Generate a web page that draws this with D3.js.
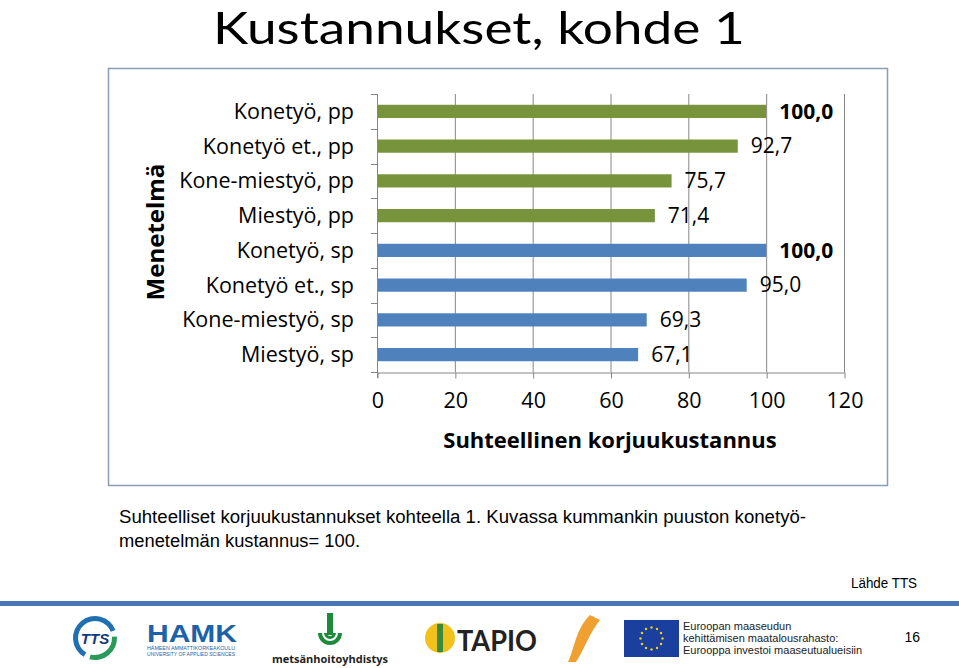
<!DOCTYPE html>
<html>
<head>
<meta charset="utf-8">
<script src="https://cdn.jsdelivr.net/npm/d3@7"></script>
<style>
  body { margin:0; background:#fff; }
  svg { display:block; }
</style>
</head>
<body>
<svg width="959" height="668"></svg>
<script>
const categories = ["Konetyö, pp","Konetyö et., pp","Kone-miestyö, pp","Miestyö, pp",
                    "Konetyö, sp","Konetyö et., sp","Kone-miestyö, sp","Miestyö, sp"];
const values = [100.0, 92.7, 75.7, 71.4, 100.0, 95.0, 69.3, 67.1];
const groups = ["pp","pp","pp","pp","sp","sp","sp","sp"];
const xTicks = [0,20,40,60,80,100,120];

const svg = d3.select("svg");
const font = "'Open Sans', sans-serif";

// slide title
svg.append("text").attr("x",213).attr("y",44)
  .attr("font-family","Lato, sans-serif").attr("font-size",44)
  .attr("textLength",532).attr("lengthAdjust","spacingAndGlyphs")
  .text("Kustannukset, kohde 1");

// chart frame
svg.append("rect").attr("x",108.5).attr("y",68.5).attr("width",779).attr("height",417)
  .attr("fill","#fff").attr("stroke","#8a9db2").attr("stroke-width",1.5);

const m = {left:377, right:844, top:94, bottom:372};
const x = d3.scaleLinear().domain([0,120]).range([m.left,m.right]);
const y = d3.scaleBand().domain(categories).range([m.top,m.bottom]).paddingInner(0.62).paddingOuter(0.31);
const yb = d3.scaleBand().domain(categories).range([m.top,m.bottom]);
const color = d3.scaleOrdinal().domain(["pp","sp"]).range(["#77933c","#4f81bd"]);

const g = svg.append("g");

// gridlines
g.selectAll("line.grid").data(xTicks.slice(1)).join("line")
  .attr("x1",d=>x(d)+0.5).attr("x2",d=>x(d)+0.5)
  .attr("y1",m.top).attr("y2",m.bottom)
  .attr("stroke","#868686").attr("stroke-width",1);

// bars
g.selectAll("rect.bar").data(categories).join("rect")
  .attr("x",x(0)).attr("y",d=>y(d))
  .attr("width",(d,i)=>x(values[i])-x(0)).attr("height",y.bandwidth())
  .attr("fill",(d,i)=>color(groups[i]));

// x axis
const xAxis = g.append("g").attr("transform",`translate(0.5,${m.bottom+0.5})`)
  .call(d3.axisBottom(x).tickValues(xTicks).tickSize(6).tickSizeOuter(0).tickPadding(14));
xAxis.select(".domain").attr("stroke","#868686");
xAxis.selectAll(".tick line").attr("stroke","#868686");
xAxis.selectAll("text").attr("font-family",font).attr("font-size",21.5).attr("fill","#000");

// y axis (category ticks between bands)
g.append("line").attr("x1",m.left+0.5).attr("x2",m.left+0.5).attr("y1",m.top).attr("y2",m.bottom+6)
  .attr("stroke","#868686");
g.selectAll("line.ytick").data(categories.concat([null])).join("line")
  .attr("x1",m.left-6).attr("x2",m.left)
  .attr("y1",(d,i)=>Math.round(m.top+i*yb.step())+0.5).attr("y2",(d,i)=>Math.round(m.top+i*yb.step())+0.5)
  .attr("stroke","#868686");
g.selectAll("text.ylab").data(categories).join("text")
  .attr("x",354).attr("y",d=>yb(d)+yb.bandwidth()/2).attr("dy","0.35em")
  .attr("text-anchor","end").attr("font-family",font).attr("font-size",21.5).attr("fill","#000")
  .text(d=>d);

// value labels
g.selectAll("text.val").data(categories).join("text")
  .attr("x",(d,i)=>x(values[i])+13).attr("y",d=>yb(d)+yb.bandwidth()/2).attr("dy","0.35em")
  .attr("font-family",font).attr("font-size",21)
  .attr("font-weight",(d,i)=>values[i]===100?"bold":"normal").attr("fill","#000")
  .text((d,i)=>d3.format(".1f")(values[i]).replace(".",","));

// axis titles
svg.append("text").attr("x",610).attr("y",448).attr("text-anchor","middle")
  .attr("font-family",font).attr("font-size",22).attr("font-weight","bold")
  .text("Suhteellinen korjuukustannus");
svg.append("text").attr("transform","translate(164,232) rotate(-90)").attr("text-anchor","middle")
  .attr("font-family",font).attr("font-size",24).attr("font-weight","bold")
  .text("Menetelmä");

// caption
const cap = "'Liberation Sans', sans-serif";
svg.append("text").attr("x",119).attr("y",523).attr("font-family",cap).attr("font-size",18)
  .attr("textLength",687).attr("lengthAdjust","spacingAndGlyphs")
  .text("Suhteelliset korjuukustannukset kohteella 1. Kuvassa kummankin puuston konetyö-");
svg.append("text").attr("x",119).attr("y",547).attr("font-family",cap).attr("font-size",18)
  .attr("textLength",241).attr("lengthAdjust","spacingAndGlyphs")
  .text("menetelmän kustannus= 100.");
svg.append("text").attr("x",917).attr("y",588).attr("text-anchor","end")
  .attr("font-family",cap).attr("font-size",14).attr("textLength",66).attr("lengthAdjust","spacingAndGlyphs")
  .text("Lähde TTS");

// footer rule
svg.append("rect").attr("x",0).attr("y",601).attr("width",959).attr("height",5).attr("fill","#4a76b8");

// footer logos (simplified)
const f = svg.append("g");
f.append("path").attr("d",d3.arc()({innerRadius:17,outerRadius:22,startAngle:-2.6,endAngle:1.2}))
  .attr("transform","translate(95,638)").attr("fill","#1f6fb2");
f.append("path").attr("d",d3.arc()({innerRadius:17,outerRadius:22,startAngle:1.5,endAngle:3.4}))
  .attr("transform","translate(95,638)").attr("fill","#2a9a5a");
f.append("text").attr("x",95).attr("y",644).attr("text-anchor","middle").attr("font-family","Liberation Sans").attr("font-weight","bold").attr("font-style","italic").attr("font-size",15).attr("fill","#123a7a").text("TTS");
f.append("text").attr("x",147).attr("y",642).attr("font-family","Liberation Sans").attr("font-weight","bold").attr("font-size",23).attr("fill","#1b62a8")
  .attr("textLength",90).attr("lengthAdjust","spacingAndGlyphs").text("HAMK");
f.append("text").attr("x",147).attr("y",650).attr("font-family","Liberation Sans").attr("font-size",4.5).attr("fill","#1b62a8")
  .attr("textLength",88).attr("lengthAdjust","spacingAndGlyphs").text("HÄMEEN AMMATTIKORKEAKOULU");
f.append("text").attr("x",147).attr("y",656).attr("font-family","Liberation Sans").attr("font-size",4.5).attr("fill","#1b62a8")
  .attr("textLength",88).attr("lengthAdjust","spacingAndGlyphs").text("UNIVERSITY OF APPLIED SCIENCES");
f.append("path").attr("d",d3.arc()({innerRadius:8,outerRadius:12,startAngle:Math.PI/2,endAngle:Math.PI*1.5}))
  .attr("transform","translate(330,633)").attr("fill","#1c8a3a");
f.append("path").attr("d",d3.arc()({innerRadius:3,outerRadius:6,startAngle:Math.PI/2,endAngle:Math.PI*1.5}))
  .attr("transform","translate(330,633)").attr("fill","#1c8a3a");
f.append("rect").attr("x",327).attr("y",613).attr("width",6).attr("height",22).attr("fill","#1c8a3a");
f.append("text").attr("x",330).attr("y",663).attr("text-anchor","middle").attr("font-family","Open Sans").attr("font-weight","bold").attr("font-size",11).attr("fill","#222").text("metsänhoitoyhdistys");
f.append("circle").attr("cx",440).attr("cy",638).attr("r",15).attr("fill","#f2c21b");
f.append("rect").attr("x",437).attr("y",624).attr("width",6).attr("height",28).attr("fill","#3b8a3a");
f.append("text").attr("x",457).attr("y",651).attr("font-family","Lato").attr("font-weight","bold").attr("font-size",29).attr("fill","#222")
  .attr("textLength",80).attr("lengthAdjust","spacingAndGlyphs").text("TAPIO");
f.append("path").attr("d","M590,615 C575,630 575,648 568,662 L576,662 C585,648 590,632 600,620 Z").attr("fill","#f0a030");
f.append("rect").attr("x",624).attr("y",620).attr("width",55).attr("height",37).attr("fill","#1a3f9e");
const stars = d3.range(12).map(i=>[651.5+11*Math.cos(i*Math.PI/6), 638.5+11*Math.sin(i*Math.PI/6)]);
f.selectAll("circle.star").data(stars).join("circle").attr("cx",d=>d[0]).attr("cy",d=>d[1]).attr("r",1.2).attr("fill","#f5d20a");
["Euroopan maaseudun","kehittämisen maatalousrahasto:","Eurooppa investoi maaseutualueisiin"].forEach((t,i)=>{
  f.append("text").attr("x",683).attr("y",630+i*12).attr("font-family",cap).attr("font-size",11).attr("fill","#222").text(t);
});
svg.append("text").attr("x",920).attr("y",642).attr("text-anchor","end").attr("font-family",cap).attr("font-size",14).text("16");
</script>
</body>
</html>
